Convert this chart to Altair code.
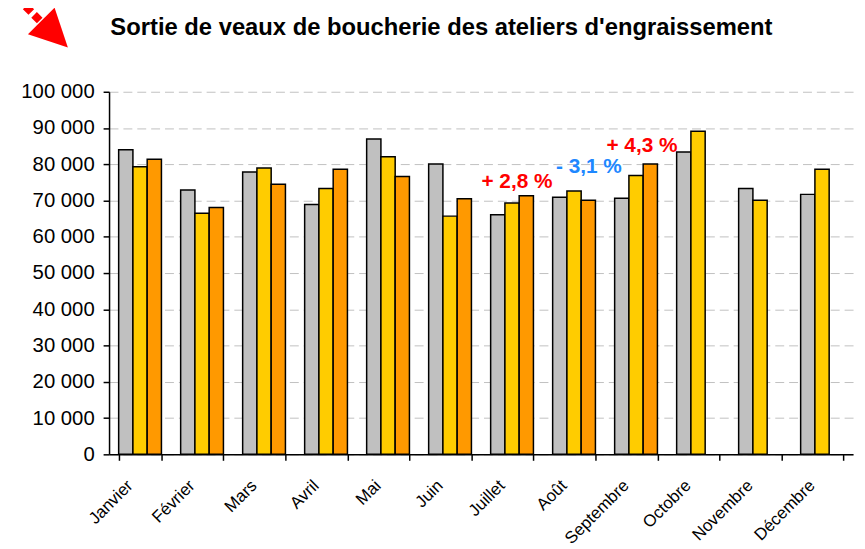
import altair as alt
import pandas as pd

months = ["Janvier", "Février", "Mars", "Avril", "Mai", "Juin", "Juillet",
          "Août", "Septembre", "Octobre", "Novembre", "Décembre"]
series = ["Année N-2", "Année N-1", "Année N"]
serie_grise = [84000, 72900, 77900, 68900, 87000, 80100, 66100, 70900, 70600, 83400, 73300, 71700]
serie_jaune = [79300, 66500, 79000, 73300, 82100, 65700, 69300, 72600, 76900, 89100, 70100, 78600]
serie_orange = [81400, 68100, 74500, 78600, 76600, 70500, 71300, 70100, 80100, None, None, None]
colors = ["#C0C0C0", "#FFCC00", "#FF9900"]
y_ticks = [0, 10000, 20000, 30000, 40000, 50000, 60000, 70000, 80000, 90000, 100000]

ann_months = ["Juillet", "Août", "Septembre"]
ann_values = [75000, 79200, 85000]
ann_texts = ["+ 2,8 %", "- 3,1 %", "+ 4,3 %"]
ann_colors = ["#FF0000", "#1E88FF", "#FF0000"]
ann_dx = [5, 15, 6]

rows = []
for i, m in enumerate(months):
    for s, vals in zip(series, [serie_grise, serie_jaune, serie_orange]):
        if vals[i] is not None:
            rows.append({"mois": m, "serie": s, "valeur": vals[i]})
df = pd.DataFrame(rows)

FONT = "Liberation Sans"

x_enc = alt.X(
    "mois:N", sort=months,
    scale=alt.Scale(domain=months, paddingInner=0.31, paddingOuter=0.155),
    axis=alt.Axis(title=None, labelAngle=-45, tickBand="extent", labelFont=FONT,
                  labelFontSize=17, labelColor="black", domainColor="black",
                  domainWidth=1.5, tickColor="black", tickSize=6, tickWidth=1.5,
                  labelPadding=17, labelOffset=-16, labelOverlap=False, grid=False),
)
y_enc = alt.Y(
    "valeur:Q",
    scale=alt.Scale(domain=[0, 100000], nice=False),
    axis=alt.Axis(title=None, values=y_ticks, labelOverlap=False,
                  labelExpr="replace(format(datum.value, ',d'), ',', ' ')",
                  grid=True, gridColor="#C0C0C0", gridDash=[9, 5], gridWidth=1,
                  domainColor="black", domainWidth=1.5, tickColor="black",
                  tickSize=6, tickWidth=1.5, labelFont=FONT, labelFontSize=20.5,
                  labelColor="black", labelPadding=9),
)

bars = alt.Chart(df).mark_bar(stroke="black", strokeWidth=1.5).encode(
    x=x_enc,
    xOffset=alt.XOffset("serie:N", sort=series,
                        scale=alt.Scale(domain=series, paddingInner=0, paddingOuter=0)),
    y=y_enc,
    color=alt.Color("serie:N", scale=alt.Scale(domain=series, range=colors), legend=None),
)

layers = [bars]
for m, v, t, c, d in zip(ann_months, ann_values, ann_texts, ann_colors, ann_dx):
    adf = pd.DataFrame({"mois": [m], "valeur": [v], "texte": [t]})
    layers.append(
        alt.Chart(adf).mark_text(font=FONT, fontSize=21, fontWeight="bold",
                                 color=c, dx=d, baseline="middle").encode(
            x=x_enc,
            y=y_enc,
            text="texte:N",
        )
    )

deco = pd.DataFrame({"a": [0]})
tail = alt.Chart(deco).mark_rule(color="#FF0000", strokeWidth=8, strokeDash=[8, 4]).encode(
    x=alt.value(-70), y=alt.value(-72), x2=alt.value(-93), y2=alt.value(-95)
)
head = alt.Chart(deco).mark_point(shape="M -1 -1 L 1 0 L -1 1 Z", filled=True,
                                  color="#FF0000", opacity=1, size=1444, angle=45).encode(
    x=alt.value(-55), y=alt.value(-58)
)
layers += [tail, head]

chart = alt.layer(*layers).properties(
    width=751, height=366,
    autosize="none",
    padding={"left": 102, "top": 82, "right": 4, "bottom": 93},
    title=alt.TitleParams("Sortie de veaux de boucherie des ateliers d'engraissement",
                          font=FONT, fontSize=24, fontWeight="bold", color="black",
                          anchor="middle", dx=-40, offset=-47),
).configure_view(stroke=None)

chart.save("out.html", embed_options={"renderer": "svg", "actions": False})
